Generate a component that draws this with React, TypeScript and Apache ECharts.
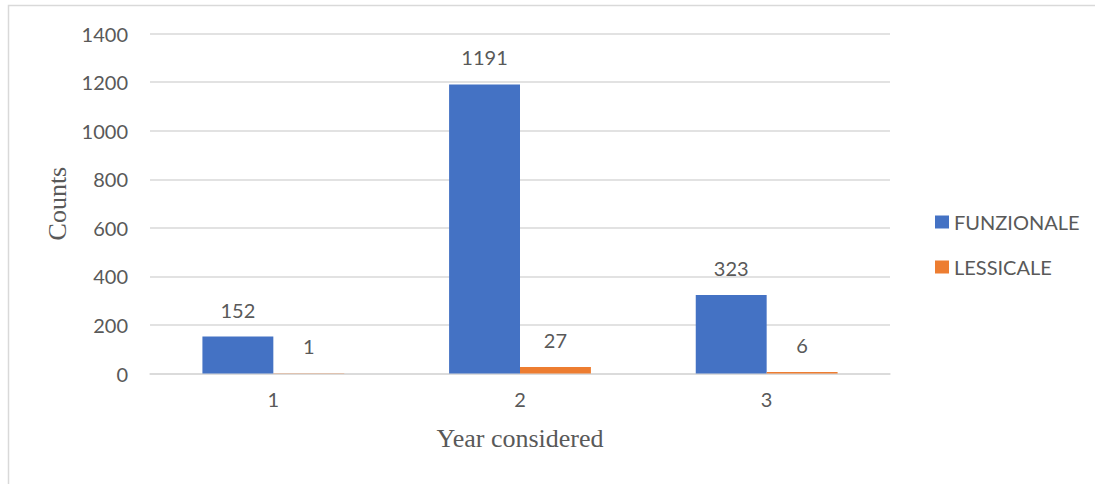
import React, { useEffect, useRef } from "react";
import * as echarts from "echarts";

const categories = ["1", "2", "3"];
const funzionale = [152, 1191, 323];
const lessicale = [1, 27, 6];
const seriesNames = ["FUNZIONALE", "LESSICALE"];
const yTicks = { min: 0, max: 1400, interval: 200 };

const TEXT = "#595959";
const GRID = "#D9D9D9";
const SANS = "Lato, 'Open Sans', sans-serif";
const SERIF = "'Liberation Serif', 'Times New Roman', serif";

export default function App() {
  const ref = useRef<HTMLDivElement>(null);
  useEffect(() => {
    if (!ref.current) return;
    const chart = echarts.init(ref.current, undefined, { renderer: "svg" });
    const label = {
      show: true,
      position: "top",
      distance: 17,
      color: TEXT,
      fontFamily: SANS,
      fontSize: 20,
    };
    chart.setOption({
      animation: false,
      backgroundColor: "#ffffff",
      graphic: [
        {
          type: "rect",
          shape: { x: 8.5, y: 5.5, width: 1100, height: 500 },
          style: { fill: "none", stroke: GRID, lineWidth: 1.5 },
          silent: true,
          z: -10,
        },
      ],
      grid: { left: 150, right: 205, top: 33.7, bottom: 110.5 },
      legend: {
        orient: "vertical",
        left: 930,
        top: 207,
        itemWidth: 14,
        itemHeight: 13,
        itemGap: 25,
        icon: "rect",
        textStyle: { color: TEXT, fontFamily: SANS, fontSize: 20 },
        data: seriesNames,
      },
      xAxis: {
        type: "category",
        data: categories,
        axisLine: { show: true, lineStyle: { color: GRID, width: 1.5 } },
        axisTick: { show: false },
        axisLabel: { color: TEXT, fontFamily: SANS, fontSize: 20, margin: 15 },
        name: "Year considered",
        nameLocation: "middle",
        nameGap: 52,
        nameTextStyle: { color: TEXT, fontFamily: SERIF, fontSize: 26 },
      },
      yAxis: {
        type: "value",
        min: yTicks.min,
        max: yTicks.max,
        interval: yTicks.interval,
        axisLine: { show: false },
        axisTick: { show: false },
        splitLine: { lineStyle: { color: GRID, width: 1.5 } },
        axisLabel: {
          color: TEXT,
          fontFamily: SANS,
          fontSize: 20,
          margin: 22,
          formatter: (v: number) => String(v),
        },
        name: "Counts",
        nameLocation: "middle",
        nameRotate: 90,
        nameGap: 80,
        nameTextStyle: { color: TEXT, fontFamily: SERIF, fontSize: 26 },
      },
      series: [
        {
          name: seriesNames[0],
          type: "bar",
          data: funzionale,
          itemStyle: { color: "#4472C4" },
          barGap: "0%",
          barCategoryGap: "42.5%",
          label,
        },
        {
          name: seriesNames[1],
          type: "bar",
          data: lessicale,
          itemStyle: { color: "#ED7D31" },
          barGap: "0%",
          barCategoryGap: "42.5%",
          label,
        },
      ],
    });
    return () => chart.dispose();
  }, []);
  return (
    <div
      ref={ref}
      style={{ position: "fixed", left: 0, top: 0, width: 1095, height: 484 }}
    />
  );
}
